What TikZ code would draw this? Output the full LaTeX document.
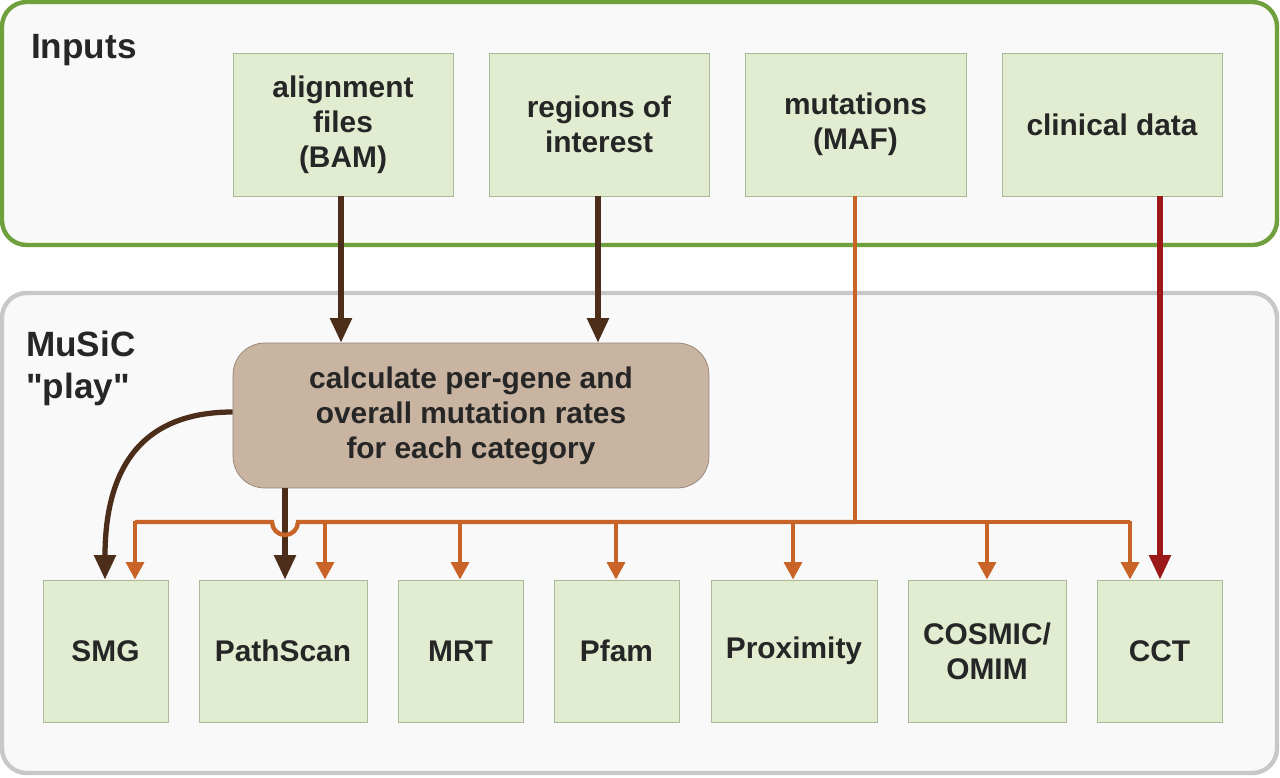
\documentclass[tikz,border=0pt]{standalone}
\usepackage{fontspec}
\setmainfont{Liberation Sans}[Ligatures=TeXOff]
\usetikzlibrary{arrows.meta}
\definecolor{boxfill}{RGB}{226,236,208}
\definecolor{boxline}{RGB}{170,185,150}
\definecolor{inframe}{RGB}{110,160,60}
\definecolor{muframe}{RGB}{200,200,200}
\definecolor{calcfill}{RGB}{200,180,160}
\definecolor{darkbrown}{RGB}{75,45,25}
\definecolor{mutorange}{RGB}{200,100,40}
\definecolor{clinred}{RGB}{155,25,25}
\tikzset{
  box/.style={draw=boxline, fill=boxfill, font=\bfseries\fontsize{17}{20}\selectfont, align=center, text=black!85},
  frame/.style={rounded corners=14pt, line width=2.5pt, fill=gray!5},
  brownarr/.style={draw=darkbrown, line width=3pt, -{Triangle[length=14pt,width=12pt]}},
  orangearr/.style={draw=mutorange, line width=2.5pt, -{Triangle[length=10pt,width=10pt]}},
  redarr/.style={draw=clinred, line width=3pt, -{Triangle[length=14pt,width=12pt]}},
}
\begin{document}
\begin{tikzpicture}[x=0.02cm,y=-0.02cm]
			\useasboundingbox (0,0) rectangle (1280,777);
			\draw[frame, draw=inframe] (2,2) rectangle (1277,245);
			\draw[frame, draw=muframe] (2,293) rectangle (1277,773);
			\node[anchor=west, font=\bfseries\fontsize{20}{24}\selectfont, text=black!85] (lin) at (25,50) {Inputs};
			\node[anchor=north west, align=left, font=\bfseries\fontsize{20}{24}\selectfont, text=black!85] (lmu) at (20,325) {MuSiC\\"play"};
			%
			\def\inputs {bam/233/453/{alignment\\files\\(BAM)}, roi/489/709/{regions of\\interest}, maf/745/966/{mutations\\(MAF)}, clin/1002/1222/{clinical data}}  % list elements
			\foreach \n\a\b\t in \inputs
			{	\node[box, minimum width={(\b-\a)*0.02cm}, minimum height=2.86cm] (\n) at ({(\a+\b)/2},124.5) {\t};
			}
			\def\tools {smg/43/168/SMG, ps/199/367/PathScan, mrt/398/523/MRT, pfam/554/679/Pfam, prox/711/877/Proximity, cos/908/1066/{COSMIC/\\OMIM}, cct/1097/1222/CCT}  % list elements
			\foreach \n\a\b\t in \tools
			{	\node[box, minimum width={(\b-\a)*0.02cm}, minimum height=2.84cm] (\n) at ({(\a+\b)/2},651) {\t};
			}
			\node[box, draw=darkbrown!60, fill=calcfill, rounded corners=18pt, minimum width=9.52cm, minimum height=2.9cm] (calc) at (471,415.5) {calculate per-gene and\\overall mutation rates\\for each category};
			%
			\draw[brownarr] (bam.south -| 341,0) -- (calc.north -| 341,0);
			\draw[brownarr] (roi.south -| 598,0) -- (calc.north -| 598,0);
			\draw[brownarr] (calc.south -| 285,0) -- (ps.north -| 285,0);
			\draw[brownarr] (calc.west |- 0,412) .. controls (140,412) and (105,470) .. (smg.north -| 105,0);
			\draw[redarr] (clin.south -| 1160,0) -- (cct.north -| 1160,0);
			% mutation bus
			\coordinate (busr) at (855,522);
			\coordinate (busl) at (135,522);
			\draw[mutorange, line width=2.5pt, line join=round] (maf.south -| 855,0) -- (busr) -- (1130,522);
			\draw[mutorange, line width=2.5pt] (busr) -- (298,522) arc (0:180:13) -- (busl);
			\def\taps {smg/135, ps/325, mrt/460, pfam/616, prox/793, cos/987, cct/1130}  % list elements
			\foreach \n\x in \taps
			{	\draw[orangearr] (\x,521) -- (\n.north -| \x,0);
			}
\end{tikzpicture}
\end{document}
